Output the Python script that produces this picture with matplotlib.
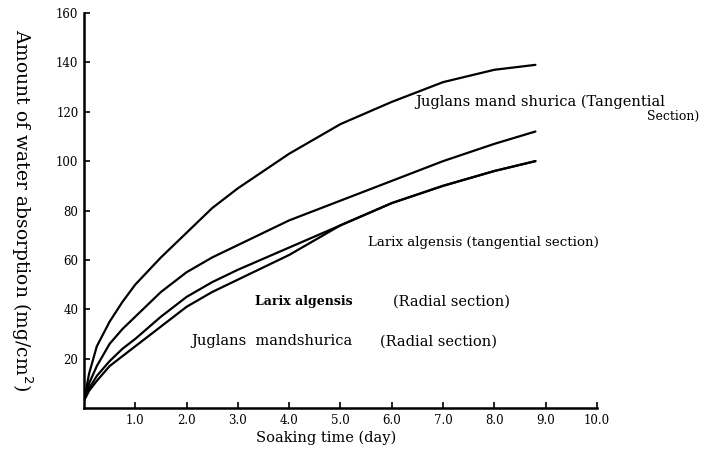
import matplotlib
matplotlib.use("Agg")
import matplotlib.pyplot as plt

days = [0, 0.1, 0.25, 0.5, 0.75, 1, 1.5, 2, 2.5, 3, 4, 5, 6, 7, 8, 8.8]
juglans_tangential = [3, 14, 25, 35, 43, 50, 61, 71, 81, 89, 103, 115, 124, 132, 137, 139]
larix_tangential = [3, 10, 17, 26, 32, 37, 47, 55, 61, 66, 76, 84, 92, 100, 107, 112]
larix_radial = [3, 8, 13, 19, 24, 28, 37, 45, 51, 56, 65, 74, 83, 90, 96, 100]
juglans_radial = [3, 7, 11, 17, 21, 25, 33, 41, 47, 52, 62, 74, 83, 90, 96, 100]

x_ticks = [1, 2, 3, 4, 5, 6, 7, 8, 9, 10]
x_labels = ["1.0", "2.0", "3.0", "4.0", "5.0", "6.0", "7.0", "8.0", "9.0", "10.0"]
y_ticks = [20, 40, 60, 80, 100, 120, 140, 160]
y_labels = ["20", "40", "60", "80", "100", "120", "140", "160"]

plt.rcParams['font.family'] = ['DejaVu Serif']

fig = plt.figure(figsize=(7.04, 4.54), dpi=100)
ax = fig.add_axes([84/704, 1-408/454, (597-84)/704, (408-13)/454])

for ys in (juglans_tangential, larix_tangential, larix_radial, juglans_radial):
    ax.plot(days, ys, color='black', lw=1.6, solid_capstyle='round', solid_joinstyle='round')

ax.set_xlim(0, 10)
ax.set_ylim(0, 158)
ax.set_xticks(x_ticks)
ax.set_xticklabels(x_labels, fontsize=8.5)
ax.set_yticks(y_ticks)
ax.set_yticklabels(y_labels, fontsize=8.5)
ax.tick_params(direction='in', length=4, width=1.2, pad=4)
for s in ('top', 'right'):
    ax.spines[s].set_visible(False)
for s in ('left', 'bottom'):
    ax.spines[s].set_linewidth(1.8)

fig.text(326/704, 1-438/454, "Soaking time (day)", fontsize=10.5, ha='center', va='center')
fig.text(22/704, 1-210/454, "Amount of water absorption (mg/cm$^2$)", fontsize=13.5,
         rotation=-90, ha='center', va='center')

ax.text(6.45, 124, "Juglans mand shurica (Tangential", fontsize=10.5, va='center')
ax.text(12.0, 118, "Section)", fontsize=9, va='center', ha='right', clip_on=False)
ax.text(5.54, 67, "Larix algensis (tangential section)", fontsize=9.6, va='center')
ax.text(3.33, 43, "Larix algensis", fontsize=9, va='center', fontweight='bold')
ax.text(6.02, 43, "(Radial section)", fontsize=10.5, va='center')
ax.text(2.1, 27, "Juglans  mandshurica", fontsize=10.5, va='center')
ax.text(5.77, 27, "(Radial section)", fontsize=10.5, va='center')

fig.savefig("out.png", dpi=100)
